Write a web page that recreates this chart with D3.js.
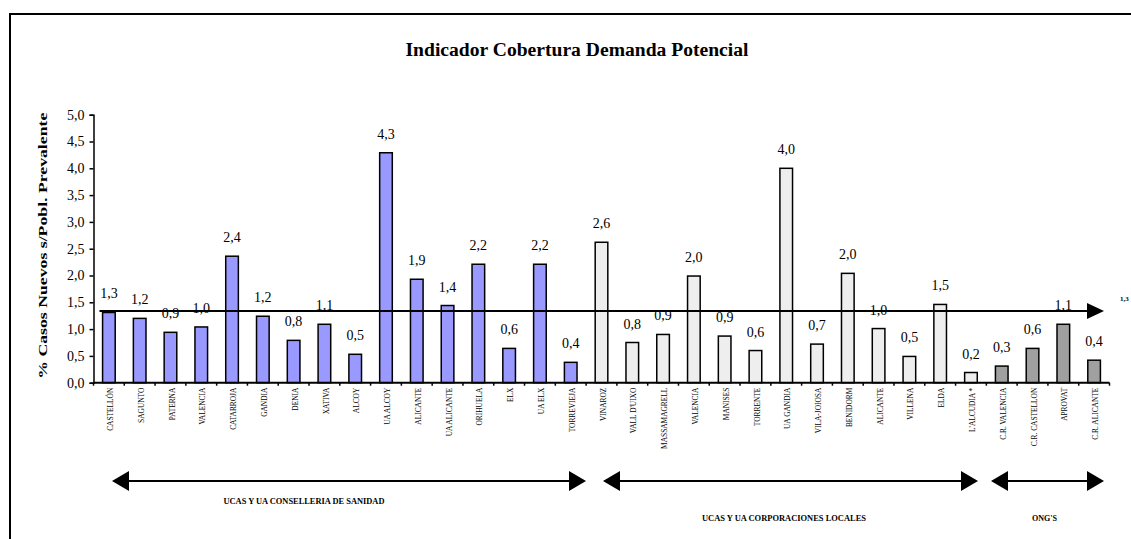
<!DOCTYPE html>
<html>
<head>
<meta charset="utf-8">
<script src="https://cdn.jsdelivr.net/npm/d3@7"></script>
<style>
  html, body { margin: 0; padding: 0; background: #fff; }
  svg { display: block; }
  text { font-family: "Liberation Serif", "Times New Roman", serif; fill: #000; }
</style>
</head>
<body>
<svg id="chart" width="1131" height="539"></svg>
<script>
// Centres and their coverage indicator (% new cases over prevalent population)
const categories = [
  "CASTELLÓN", "SAGUNTO", "PATERNA", "VALENCIA", "CATARROJA", "GANDIA", "DENIA", "XATIVA",
  "ALCOY", "UA ALCOY", "ALICANTE", "UA ALICANTE", "ORIHUELA", "ELX", "UA ELX", "TORREVIEJA",
  "VINAROZ", "VALL D'UIXO", "MASSAMAGRELL", "VALENCIA ", "MANISES", "TORRENTE", "UA GANDIA",
  "VILA-JOIOSA", "BENIDORM", "ALICANTE ", "VILLENA", "ELDA", "L'ALCUDIA *",
  "C.R. VALENCIA", "C.R. CASTELLON", "APROVAT", "C.R. ALICANTE"
];
const values = [
  1.31, 1.20, 0.94, 1.04, 2.36, 1.24, 0.79, 1.09,
  0.53, 4.29, 1.93, 1.44, 2.21, 0.64, 2.21, 0.38,
  2.62, 0.75, 0.90, 1.99, 0.87, 0.60, 4.00,
  0.72, 2.04, 1.01, 0.49, 1.46, 0.19,
  0.31, 0.64, 1.09, 0.42
];
// Provider group of each centre
const groups = [
  "cons", "cons", "cons", "cons", "cons", "cons", "cons", "cons",
  "cons", "cons", "cons", "cons", "cons", "cons", "cons", "cons",
  "corp", "corp", "corp", "corp", "corp", "corp", "corp",
  "corp", "corp", "corp", "corp", "corp", "corp",
  "ong", "ong", "ong", "ong"
];
const groupLabels = ["UCAS Y UA CONSELLERIA DE SANIDAD", "UCAS Y UA CORPORACIONES LOCALES", "ONG'S"];
const groupColors = { cons: "#9999ff", corp: "#eeeeee", ong: "#a0a0a0" };
const average = 1.34;
const yTicks = [0, 0.5, 1, 1.5, 2, 2.5, 3, 3.5, 4, 4.5, 5];

const svg = d3.select("#chart");
const margin = { left: 93.5, right: 1109.5, top: 114.7, bottom: 382.7 };

const x = d3.scaleBand().domain(categories).range([margin.left, margin.right])
  .paddingInner(0.59).paddingOuter(0.295);
const y = d3.scaleLinear().domain([0, 5]).range([margin.bottom, margin.top]);
const fmt = v => d3.format(".1f")(v).replace(".", ",");
const step = x.step();

// Outer frame
svg.append("rect")
  .attr("x", 10).attr("y", 14).attr("width", 1140).attr("height", 560)
  .attr("fill", "none").attr("stroke", "#000").attr("stroke-width", 2);

// Title
svg.append("text")
  .attr("x", 577).attr("y", 56)
  .attr("text-anchor", "middle")
  .attr("textLength", 343).attr("lengthAdjust", "spacingAndGlyphs")
  .style("font-size", "18px").style("font-weight", "bold")
  .text("Indicador Cobertura Demanda Potencial");

// Y axis
const yAxis = svg.append("g")
  .attr("transform", `translate(${margin.left},0)`)
  .call(d3.axisLeft(y).tickValues(yTicks).tickFormat(fmt).tickSize(4).tickSizeOuter(4));
yAxis.select(".domain").attr("stroke", "#000").attr("stroke-width", 1.5);
yAxis.selectAll(".tick line").attr("stroke", "#000").attr("stroke-width", 1.5);
yAxis.selectAll(".tick text")
  .attr("x", -9)
  .style("font-family", "'Liberation Serif', serif")
  .style("font-size", "14px");

svg.append("text")
  .attr("transform", `translate(47,${(margin.top + margin.bottom) / 2 - 3}) rotate(-90)`)
  .attr("text-anchor", "middle")
  .attr("textLength", 266).attr("lengthAdjust", "spacingAndGlyphs")
  .style("font-size", "13px").style("font-weight", "bold")
  .text("% Casos Nuevos s/Pobl. Prevalente");

// Bars
svg.append("g").selectAll("rect")
  .data(categories)
  .join("rect")
  .attr("x", d => x(d))
  .attr("y", (d, i) => y(values[i]))
  .attr("width", x.bandwidth())
  .attr("height", (d, i) => y(0) - y(values[i]))
  .attr("fill", (d, i) => groupColors[groups[i]])
  .attr("stroke", "#000")
  .attr("stroke-width", 1.5);

// Value labels
svg.append("g").selectAll("text")
  .data(categories)
  .join("text")
  .attr("x", d => x(d) + x.bandwidth() / 2)
  .attr("y", (d, i) => y(values[i]) - 14)
  .attr("text-anchor", "middle")
  .style("font-size", "14px")
  .text((d, i) => fmt(values[i]));

// X axis with ticks between categories
svg.append("line")
  .attr("x1", margin.left).attr("x2", margin.right)
  .attr("y1", y(0)).attr("y2", y(0))
  .attr("stroke", "#000").attr("stroke-width", 2);
svg.append("g").selectAll("line")
  .data(d3.range(categories.length + 1))
  .join("line")
  .attr("x1", i => margin.left + i * step).attr("x2", i => margin.left + i * step)
  .attr("y1", y(0)).attr("y2", y(0) + 3)
  .attr("stroke", "#000").attr("stroke-width", 1.5);

svg.append("g").selectAll("text")
  .data(categories)
  .join("text")
  .attr("transform", d => `translate(${x(d) + x.bandwidth() / 2 + 1.5},${y(0) + 5}) rotate(-90)`)
  .attr("text-anchor", "end")
  .attr("dy", "0.35em")
  .style("font-size", "7.4px")
  .text(d => d.trim());

// Average line with arrow head
const avgY = y(average);
const avgX0 = margin.left + 6;
const avgX1 = 1104;
svg.append("line")
  .attr("x1", avgX0).attr("x2", avgX1 - 14)
  .attr("y1", avgY).attr("y2", avgY)
  .attr("stroke", "#000").attr("stroke-width", 2);
svg.append("path")
  .attr("d", `M${avgX1 - 17},${avgY - 8}L${avgX1},${avgY}L${avgX1 - 17},${avgY + 8}Z`)
  .attr("fill", "#000");
svg.append("text")
  .attr("x", 1120).attr("y", avgY - 10)
  .style("font-size", "7px").style("font-weight", "bold")
  .text(fmt(average));

// Group spans with double-headed arrows
const arrowY = 481;
const spans = [
  { x0: 112, x1: 586, cx: 304, ly: 503.5, w: 161 },
  { x0: 603, x1: 978, cx: 784, ly: 520.5, w: 164 },
  { x0: 991, x1: 1104, cx: 1044.5, ly: 520.5, w: 25 }
];
const arrows = svg.append("g");
spans.forEach((s, k) => {
  arrows.append("line")
    .attr("x1", s.x0 + 12).attr("x2", s.x1 - 12)
    .attr("y1", arrowY).attr("y2", arrowY)
    .attr("stroke", "#000").attr("stroke-width", 2);
  arrows.append("path")
    .attr("d", `M${s.x0},${arrowY}L${s.x0 + 17},${arrowY - 10}L${s.x0 + 17},${arrowY + 10}Z`)
    .attr("fill", "#000");
  arrows.append("path")
    .attr("d", `M${s.x1},${arrowY}L${s.x1 - 17},${arrowY - 10}L${s.x1 - 17},${arrowY + 10}Z`)
    .attr("fill", "#000");
  arrows.append("text")
    .attr("x", s.cx).attr("y", s.ly)
    .attr("text-anchor", "middle")
    .attr("textLength", s.w).attr("lengthAdjust", "spacingAndGlyphs")
    .style("font-size", "7.5px").style("font-weight", "bold")
    .text(groupLabels[k]);
});
</script>
</body>
</html>
